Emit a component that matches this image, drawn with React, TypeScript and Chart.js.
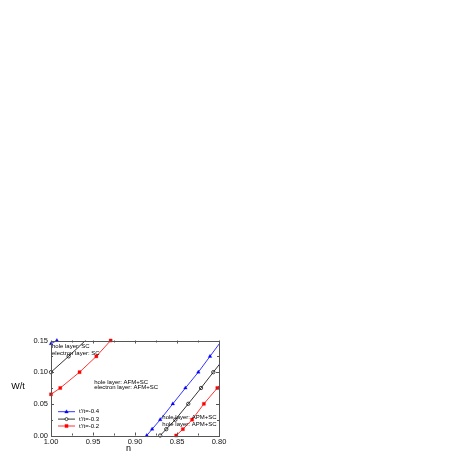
import React, { useEffect, useRef } from 'react';
import { Chart, registerables } from 'chart.js';

Chart.register(...registerables);

const FONT = "'Liberation Sans', Arial, sans-serif";

// t'/t = -0.4 (blue, triangles)
const blueLeftN = [1.0, 0.993];
const blueLeftW = [0.145, 0.15];
const blueRightN = [0.886, 0.8796, 0.87, 0.855, 0.84, 0.8246, 0.8107, 0.7968];
const blueRightW = [0.0, 0.01, 0.025, 0.05, 0.075, 0.1, 0.125, 0.15];

// t'/t = -0.3 (black, open circles)
const blackLeftN = [1.0, 0.979, 0.955];
const blackLeftW = [0.1, 0.125, 0.155];
const blackRightN = [0.87, 0.8628, 0.852, 0.8366, 0.8214, 0.8068, 0.792];
const blackRightW = [0.0, 0.01, 0.025, 0.05, 0.075, 0.1, 0.125];

// t'/t = -0.2 (red, squares)
const redLeftN = [1.0, 0.989, 0.966, 0.946, 0.929];
const redLeftW = [0.065, 0.075, 0.1, 0.125, 0.15];
const redRightN = [0.851, 0.843, 0.832, 0.818, 0.802, 0.786];
const redRightW = [0.0, 0.01, 0.025, 0.05, 0.075, 0.1];

const seriesLabels = ["t'/t=-0.4", "t'/t=-0.3", "t'/t=-0.2"];
const seriesColors = ['#0000ff', '#000000', '#ff0000'];
const seriesMarkers = ['triangle', 'circle', 'rect'];

const X_MIN = 0.8;
const X_MAX = 1.0;
const Y_MIN = 0.0;
const Y_MAX = 0.15;
const STEP = 0.025;

const annotations = [
  { text: 'hole layer: SC', n: 0.9988, w: 0.14 },
  { text: 'electron layer: SC', n: 0.9988, w: 0.1297 },
  { text: 'hole layer: AFM+SC', n: 0.9485, w: 0.0839 },
  { text: 'electron layer: AFM+SC', n: 0.9485, w: 0.076 },
  { text: 'hole layer: APM+SC', n: 0.8675, w: 0.0287 },
  { text: 'hole layer: APM+SC', n: 0.8675, w: 0.0181 },
];

const toPts = (xs: number[], ys: number[]) => xs.map((x, i) => ({ x, y: ys[i] }));
const inRange = (p: { x: number; y: number }) =>
  p.x >= X_MIN - 1e-9 && p.x <= X_MAX + 1e-9 && p.y >= Y_MIN - 1e-9 && p.y <= Y_MAX + 1e-9;

const branches = [
  [toPts(blueLeftN, blueLeftW), toPts(blueRightN, blueRightW)],
  [toPts(blackLeftN, blackLeftW), toPts(blackRightN, blackRightW)],
  [toPts(redLeftN, redLeftW), toPts(redRightN, redRightW)],
];

function markerStyle(i: number) {
  const color = seriesColors[i];
  if (seriesMarkers[i] === 'circle') {
    return { pointStyle: 'circle', pointRadius: 1.7, pointBackgroundColor: '#ffffff', pointBorderColor: color, pointBorderWidth: 0.7 };
  }
  if (seriesMarkers[i] === 'triangle') {
    return { pointStyle: 'triangle', pointRadius: 2.1, pointBackgroundColor: color, pointBorderColor: color, pointBorderWidth: 0.3 };
  }
  return { pointStyle: 'rect', pointRadius: 2.2, pointBackgroundColor: color, pointBorderColor: color, pointBorderWidth: 0.3 };
}

const decorPlugin = {
  id: 'decor',
  afterDatasetsDraw(chart: any) {
    const { ctx, chartArea: a, scales } = chart;
    const xs = scales.x;
    const ys = scales.y;
    ctx.save();
    // frame
    ctx.strokeStyle = '#555555';
    ctx.lineWidth = 1;
    ctx.strokeRect(Math.round(a.left) + 0.5, Math.round(a.top) + 0.5, Math.round(a.right - a.left), Math.round(a.bottom - a.top));
    // inward ticks
    ctx.beginPath();
    xs.ticks.forEach((t: any) => {
      const major = Math.round(t.value / STEP) % 2 === 0;
      const len = major ? 3 : 2;
      const px = Math.round(xs.getPixelForValue(t.value)) + 0.5;
      ctx.moveTo(px, a.bottom);
      ctx.lineTo(px, a.bottom - len);
      ctx.moveTo(px, a.top);
      ctx.lineTo(px, a.top + len);
    });
    ys.ticks.forEach((t: any) => {
      const major = Math.round(t.value / STEP) % 2 === 0;
      const len = major ? 3 : 2;
      const py = Math.round(ys.getPixelForValue(t.value)) + 0.5;
      ctx.moveTo(a.left, py);
      ctx.lineTo(a.left + len, py);
      ctx.moveTo(a.right, py);
      ctx.lineTo(a.right - len, py);
    });
    ctx.stroke();

    // annotations
    ctx.fillStyle = '#000000';
    ctx.font = `6px ${FONT}`;
    ctx.textAlign = 'left';
    ctx.textBaseline = 'middle';
    annotations.forEach((an) => {
      ctx.fillText(an.text, xs.getPixelForValue(an.n), ys.getPixelForValue(an.w));
    });

    // legend
    const rows = [a.bottom - 23.8, a.bottom - 16.4, a.bottom - 9.5];
    seriesLabels.forEach((lab, i) => {
      const y = rows[i];
      const x0 = a.left + 7;
      const x1 = a.left + 24;
      ctx.strokeStyle = seriesColors[i];
      ctx.lineWidth = 0.8;
      ctx.beginPath();
      ctx.moveTo(x0, y);
      ctx.lineTo(x1, y);
      ctx.stroke();
      const m = markerStyle(i);
      ctx.fillStyle = m.pointBackgroundColor;
      ctx.strokeStyle = m.pointBorderColor;
      ctx.lineWidth = m.pointBorderWidth;
      const cx = (x0 + x1) / 2;
      ctx.beginPath();
      if (m.pointStyle === 'circle') {
        ctx.arc(cx, y, 1.5, 0, Math.PI * 2);
      } else if (m.pointStyle === 'triangle') {
        ctx.moveTo(cx, y - 2);
        ctx.lineTo(cx + 1.9, y + 1.3);
        ctx.lineTo(cx - 1.9, y + 1.3);
        ctx.closePath();
      } else {
        ctx.rect(cx - 1.6, y - 1.6, 3.2, 3.2);
      }
      ctx.fill();
      ctx.stroke();
      ctx.fillStyle = '#000000';
      ctx.font = `6px ${FONT}`;
      ctx.textAlign = 'left';
      ctx.textBaseline = 'middle';
      ctx.fillText(lab, a.left + 28, y);
    });

    // axis titles
    ctx.fillStyle = '#000000';
    ctx.font = `9px ${FONT}`;
    ctx.textAlign = 'center';
    ctx.textBaseline = 'middle';
    ctx.fillText('W/t', a.left - 33, (a.top + a.bottom) / 2 - 1);
    ctx.fillText('n', (a.left + a.right) / 2 - 6.5, a.bottom + 13.5);
    ctx.restore();
  },
};

export default function App() {
  const ref = useRef<HTMLCanvasElement | null>(null);
  useEffect(() => {
    if (!ref.current) return;
    const datasets: any[] = [];
    branches.forEach((br, i) => {
      br.forEach((pts) => {
        datasets.push({
          type: 'line',
          data: pts,
          borderColor: seriesColors[i],
          borderWidth: 0.8,
          pointRadius: 0,
          fill: false,
          tension: 0,
        });
      });
    });
    branches.forEach((br, i) => {
      const pts = [...br[0], ...br[1]].filter(inRange);
      datasets.push({
        type: 'scatter',
        data: pts,
        showLine: false,
        clip: false,
        ...markerStyle(i),
      });
    });
    const chart = new Chart(ref.current, {
      type: 'scatter',
      data: { datasets },
      options: {
        animation: false,
        responsive: false,
        layout: { padding: { left: 21, right: 244, top: 340.5, bottom: 12.5 } },
        plugins: { legend: { display: false }, tooltip: { enabled: false } },
        scales: {
          x: {
            type: 'linear',
            reverse: true,
            min: X_MIN,
            max: X_MAX,
            grid: { display: false, drawTicks: false },
            border: { display: false },
            afterFit: (s: any) => { s.height = 15; },
            ticks: {
              stepSize: STEP,
              autoSkip: false,
              maxRotation: 0,
              padding: 2,
              color: '#111111',
              font: { family: FONT, size: 7.5 },
              callback: (v: any) => (Math.round(Number(v) / STEP) % 2 === 0 ? Number(v).toFixed(2) : ''),
            },
          },
          y: {
            type: 'linear',
            min: Y_MIN,
            max: Y_MAX,
            grid: { display: false, drawTicks: false },
            border: { display: false },
            afterFit: (s: any) => { s.width = 30; },
            ticks: {
              stepSize: STEP,
              autoSkip: false,
              padding: 3,
              color: '#111111',
              font: { family: FONT, size: 7.5 },
              callback: (v: any) => (Math.round(Number(v) / STEP) % 2 === 0 ? Number(v).toFixed(2) : ''),
            },
          },
        },
      },
      plugins: [decorPlugin],
    } as any);
    return () => chart.destroy();
  }, []);
  return (
    <div style={{ position: 'fixed', left: 0, top: 0, width: 463, height: 463, background: '#ffffff' }}>
      <canvas ref={ref} width={463} height={463} style={{ width: 463, height: 463, display: 'block' }} />
    </div>
  );
}
